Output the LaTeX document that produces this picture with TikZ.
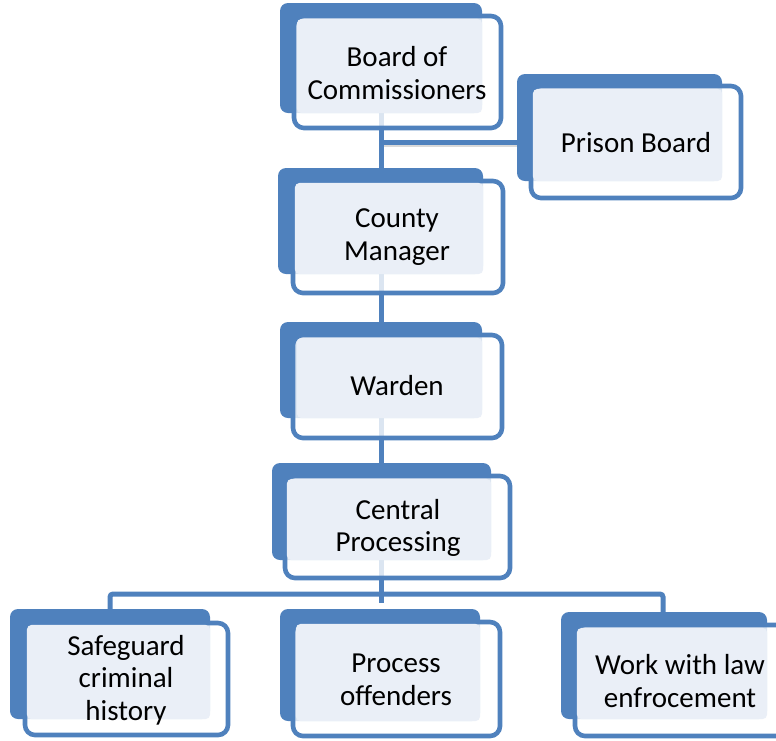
\documentclass[tikz,border=0pt]{standalone}
\usepackage{fontspec}
\setmainfont{Carlito}
\definecolor{accent}{HTML}{4F81BD}
\definecolor{lightfill}{HTML}{EAEFF7}
\tikzset{
  backbox/.style={fill=accent, rounded corners=8pt},
  frontbox/.style={draw=accent, line width=4.6pt, fill=white, fill opacity=0.8, rounded corners=10pt},
  lightbox/.style={fill=lightfill, rounded corners=5pt, inner sep=0pt, outer sep=0pt},
  boxtext/.style={align=center, font=\fontsize{29}{32.5}\selectfont, text=black, inner sep=0pt},
  conn/.style={draw=accent, line width=5pt},
  connshadow/.style={draw=black!25, line width=3pt, opacity=0.6},
}
\begin{document}
\begin{tikzpicture}[x=1pt, y=-1pt]
\useasboundingbox (0,0) rectangle (776,740);
\clip (0,0) rectangle (776,740);

\path
  node[minimum width=185pt, minimum height=94pt, inner sep=0pt] (board) at (389.5,66) {}
  node[minimum width=189pt, minimum height=92pt, inner sep=0pt] (prison) at (627.5,135) {}
  node[minimum width=188pt, minimum height=91pt, inner sep=0pt] (county) at (389,228.5) {}
  node[minimum width=185pt, minimum height=80pt, inner sep=0pt] (warden) at (389.5,378) {}
  node[minimum width=204pt, minimum height=81pt, inner sep=0pt] (central) at (389,519.5) {}
  node[minimum width=183pt, minimum height=94pt, inner sep=0pt] (safeguard) at (118.5,672) {}
  node[minimum width=184pt, minimum height=97pt, inner sep=0pt] (process) at (388,672.5) {}
  node[minimum width=190pt, minimum height=91pt, inner sep=0pt] (work) at (672,673.5) {};

\coordinate (spine) at (381,0);
\coordinate (pj) at (381,142);
\coordinate (busL) at (110,594);
\coordinate (busR) at (663,594);
\coordinate (centralEnd) at (381,603);

% ---- connectors ----
\draw[connshadow] ([yshift=-3pt]pj) -- ([yshift=-3pt]pj -| prison.west);
\draw[conn] (pj) -- (pj -| prison.west);
\draw[conn] (board.south -| spine) -- (county.north -| spine);
\draw[conn] (county.south -| spine) -- (warden.north -| spine);
\draw[conn] (warden.south -| spine) -- (central.north -| spine);
\draw[conn] (central.south -| spine) -- (centralEnd);
\draw[conn, rounded corners=3pt] (busL |- safeguard.north) -- (busL) -- (busR) -- (busR |- work.north);

% ---- boxes ----
\fill[backbox] (280,3) rectangle (482,113);
\draw[frontbox] (294,16) rectangle (501,128);
\fill[lightbox] (board.north west) rectangle (board.south east);
\node[boxtext] at (397,73) {Board of\\Commissioners};

\fill[backbox] (517,74) rectangle (722,181);
\draw[frontbox] (531,86) rectangle (741,198);
\fill[lightbox] (prison.north west) rectangle (prison.south east);
\node[boxtext] at (636,143) {Prison Board};

\fill[backbox] (278,168) rectangle (483,274);
\draw[frontbox] (293,181) rectangle (503,293);
\fill[lightbox] (county.north west) rectangle (county.south east);
\node[boxtext] at (397,237) {County\\Manager};

\fill[backbox] (280,322) rectangle (482,418);
\draw[frontbox] (293,335) rectangle (502,438);
\fill[lightbox] (warden.north west) rectangle (warden.south east);
\node[boxtext] at (397,386) {Warden};

\fill[backbox] (272,463) rectangle (491,560);
\draw[frontbox] (285,476) rectangle (510,578);
\fill[lightbox] (central.north west) rectangle (central.south east);
\node[boxtext] at (398,528) {Central\\Processing};

\fill[backbox] (10,609) rectangle (210,719);
\draw[frontbox] (25,623) rectangle (228,735);
\fill[lightbox] (safeguard.north west) rectangle (safeguard.south east);
\node[boxtext] at (126,680) {Safeguard\\criminal\\history};

\fill[backbox] (280,609) rectangle (480,721);
\draw[frontbox] (293,622) rectangle (500,736);
\fill[lightbox] (process.north west) rectangle (process.south east);
\node[boxtext] at (396,680) {Process\\offenders};

\fill[backbox] (561,612) rectangle (767,719);
\draw[frontbox] (575,625) rectangle (790,736);
\fill[lightbox] (work.north west) rectangle (work.south east);
\node[boxtext] at (680,681) {Work with law\\enfrocement};
\end{tikzpicture}
\end{document}
